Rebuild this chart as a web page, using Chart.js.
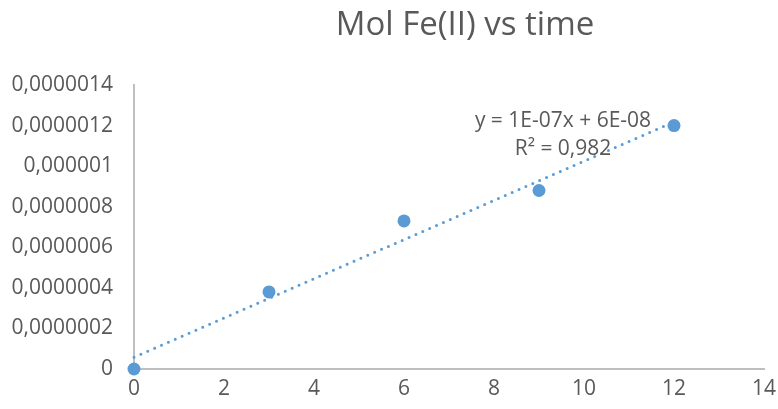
<!DOCTYPE html>
<html>
<head>
<meta charset="utf-8">
<script src="https://cdn.jsdelivr.net/npm/chart.js@4"></script>
<style>
  html, body { margin: 0; padding: 0; background: #fff; }
  #wrap { width: 778px; height: 409px; }
</style>
</head>
<body>
<div id="wrap"><canvas id="chart" width="778" height="409"></canvas></div>
<script>
// time (x) and moles of Fe(II) measured (y)
const timeValues = [0, 3, 6, 9, 12];
const molFe = [0, 3.8e-7, 7.3e-7, 8.8e-7, 1.2e-6];

const xMin = 0, xMax = 14, xStep = 2;
const yMin = 0, yMax = 1.4e-6, yStep = 2e-7;

const titleText = 'Mol Fe(II) vs time';
const textColor = '#595959';
const blue = '#5b9bd5';
const fontFamily = '"Open Sans", sans-serif';

// ---- linear trendline (least squares) ----
const n = timeValues.length;
const mx = timeValues.reduce((a, b) => a + b, 0) / n;
const my = molFe.reduce((a, b) => a + b, 0) / n;
let sxy = 0, sxx = 0, syy = 0;
timeValues.forEach((x, i) => {
    sxy += (x - mx) * (molFe[i] - my);
    sxx += (x - mx) * (x - mx);
    syy += (molFe[i] - my) * (molFe[i] - my);
});
const slope = sxy / sxx;
const intercept = my - slope * mx;
const r2 = (sxy * sxy) / (sxx * syy);

const trendX = [timeValues[0], timeValues[n - 1]];
const trendPoints = trendX.map(x => ({ x: x, y: slope * x + intercept }));

// 9.67e-8 -> "1E-07"
function sci(v) {
    const [m, e] = v.toExponential(0).split('e');
    const exp = parseInt(e, 10);
    const sign = exp < 0 ? '-' : '+';
    return m + 'E' + sign + String(Math.abs(exp)).padStart(2, '0');
}
const eqLine = 'y = ' + sci(slope) + 'x + ' + sci(intercept);
const r2Line = 'R\u00b2 = ' + r2.toFixed(3).replace('.', ',');

function decimalComma(v) {
    let s = v.toFixed(7);
    if (s.indexOf('.') >= 0) s = s.replace(/0+$/, '').replace(/\.$/, '');
    return s.replace('.', ',');
}

// title sits a bit right of the plot centre, like the spreadsheet layout
const chartTitle = {
    id: 'chartTitle',
    afterDraw(chart) {
        const { ctx, chartArea } = chart;
        ctx.save();
        ctx.fillStyle = textColor;
        ctx.font = '33px ' + fontFamily;
        ctx.textAlign = 'center';
        ctx.textBaseline = 'middle';
        ctx.fillText(titleText, (chartArea.left + chartArea.right) / 2 + 16, 26);
        ctx.restore();
    }
};

// equation label next to the end of the trendline
const equationLabel = {
    id: 'equationLabel',
    afterDatasetsDraw(chart) {
        const { ctx, chartArea } = chart;
        ctx.save();
        ctx.fillStyle = textColor;
        ctx.font = '21px ' + fontFamily;
        ctx.textAlign = 'center';
        ctx.textBaseline = 'middle';
        const cx = chartArea.right - 201;
        const cy = chartArea.top + 36;
        ctx.fillText(eqLine, cx, cy);
        ctx.fillText(r2Line, cx, cy + 28);
        ctx.restore();
    }
};

const ctx = document.getElementById('chart').getContext('2d');
new Chart(ctx, {
    type: 'scatter',
    data: {
        datasets: [
            {
                label: 'Mol Fe(II)',
                data: timeValues.map((x, i) => ({ x: x, y: molFe[i] })),
                backgroundColor: blue,
                borderColor: blue,
                pointRadius: 6.5,
                pointHoverRadius: 6.5,
                borderWidth: 0,
                clip: false,
                order: 1
            },
            {
                type: 'line',
                label: 'Linear',
                data: trendPoints,
                borderColor: blue,
                borderWidth: 3,
                borderDash: [0, 7.5],
                borderCapStyle: 'round',
                pointRadius: 0,
                fill: false,
                clip: false,
                order: 0
            }
        ]
    },
    options: {
        responsive: false,
        animation: false,
        layout: { padding: { left: 0, right: 14, top: 85, bottom: 0 } },
        plugins: {
            legend: { display: false },
            tooltip: { enabled: false },
            title: { display: false }
        },
        scales: {
            x: {
                type: 'linear',
                min: xMin,
                max: xMax,
                ticks: {
                    stepSize: xStep,
                    color: textColor,
                    font: { family: fontFamily, size: 21 },
                    padding: 7
                },
                grid: { display: false, drawTicks: false },
                border: { display: true, color: '#bfbfbf', width: 2 },
                afterFit: (scale) => {
                    scale.height = 40;
                    scale.paddingRight = 0;
                    scale.paddingLeft = 0;
                }
            },
            y: {
                min: yMin,
                max: yMax,
                ticks: {
                    stepSize: yStep,
                    color: textColor,
                    font: { family: fontFamily, size: 21 },
                    padding: 21,
                    callback: (v) => decimalComma(v)
                },
                grid: { display: false, drawTicks: false },
                border: { display: true, color: '#bfbfbf', width: 2 },
                afterFit: (scale) => { scale.width = 134; }
            }
        }
    },
    plugins: [chartTitle, equationLabel]
});
</script>
</body>
</html>
